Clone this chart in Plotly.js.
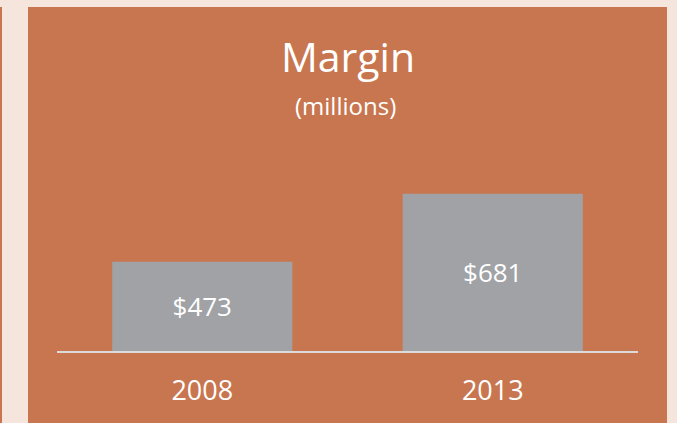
<!DOCTYPE html>
<html>
<head>
<meta charset="utf-8">
<script src="https://cdn.plot.ly/plotly-3.0.1.min.js"></script>
<style>
html,body{margin:0;padding:0;background:#f5e5dd;}
#chart{width:677px;height:423px;}
</style>
</head>
<body>
<div id="chart"></div>
<script>
const years = ['2008', '2013'];
const margins = [473, 681];
const barLabels = ['$473', '$681'];
const axisFloor = 200;

const panel = '#c8764f';
const FONT = 'Open Sans, sans-serif';

const trace = {
  type: 'bar',
  x: years,
  base: years.map(() => axisFloor),
  y: margins.map(v => v - axisFloor),
  text: barLabels,
  texttemplate: '%{text}',
  textposition: 'inside',
  insidetextanchor: 'middle',
  textangle: 0,
  textfont: {family: FONT, size: 26, color: '#ffffff'},
  marker: {color: '#a0a2a6', line: {width: 0}},
  hoverinfo: 'none'
};

const layout = {
  width: 677,
  height: 423,
  margin: {l: 57, r: 39, t: 150, b: 72, pad: 0},
  paper_bgcolor: '#f5e5dd',
  plot_bgcolor: 'rgba(0,0,0,0)',
  showlegend: false,
  bargap: 0.38,
  title: {
    text: 'Margin',
    font: {family: FONT, size: 41, color: '#ffffff'},
    x: 348 / 677,
    xanchor: 'center',
    xref: 'container',
    yref: 'container',
    y: 1 - 57.7 / 423,
    yanchor: 'middle'
  },
  xaxis: {
    type: 'category',
    range: [-0.5, 1.5],
    showline: true,
    linecolor: '#dcdcdc',
    linewidth: 2,
    showgrid: false,
    zeroline: false,
    ticks: '',
    ticklabelstandoff: 15,
    tickfont: {family: FONT, size: 27, color: '#ffffff'},
    fixedrange: true
  },
  yaxis: {
    range: [axisFloor, 815],
    showgrid: false,
    zeroline: false,
    showline: false,
    showticklabels: false,
    ticks: '',
    fixedrange: true
  },
  annotations: [{
    text: '(millions)',
    xref: 'paper', yref: 'paper',
    x: (345 - 57) / 581, y: (351 - 105) / 201,
    xanchor: 'center', yanchor: 'middle',
    showarrow: false,
    font: {family: FONT, size: 24, color: '#ffffff'}
  }],
  shapes: [
    {type: 'rect', xref: 'paper', yref: 'paper', layer: 'below',
     x0: (28 - 57) / 581, x1: (667 - 57) / 581,
     y0: (351 - 430) / 201, y1: (351 - 7) / 201,
     fillcolor: panel, line: {width: 0}},
    {type: 'rect', xref: 'paper', yref: 'paper', layer: 'below',
     x0: (0 - 57) / 581, x1: (2 - 57) / 581,
     y0: (351 - 430) / 201, y1: (351 - 7) / 201,
     fillcolor: panel, line: {width: 0}}
  ]
};

Plotly.newPlot('chart', [trace], layout, {displayModeBar: false, staticPlot: true});
</script>
</body>
</html>
